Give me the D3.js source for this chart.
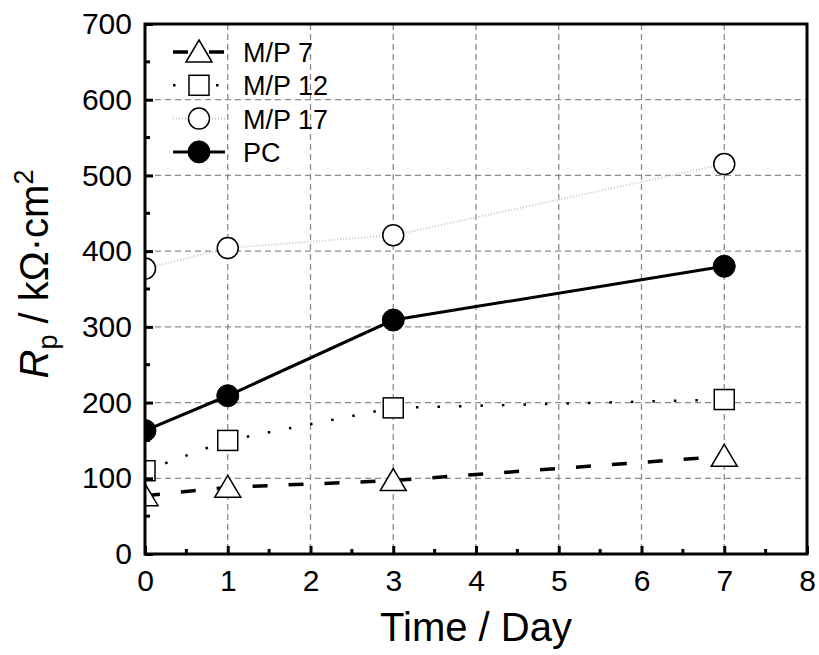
<!doctype html>
<html>
  <head>
    <script src="https://cdn.jsdelivr.net/npm/d3@7"></script>
    <style>
      body { margin: 0; background: #fff; }
      svg text { font-family: "Liberation Sans", Arial, sans-serif; fill: #000; }
    </style>
  </head>
  <body>
    <script>
      // data
      var days = [0, 1, 3, 7];
      var mp7 = [77, 88, 97, 129];
      var mp12 = [110, 150, 193, 204];
      var mp17 = [377, 404, 421, 515];
      var pc = [163, 209, 309, 380];

      var xTicks = [0, 1, 2, 3, 4, 5, 6, 7, 8];
      var yTicks = [0, 100, 200, 300, 400, 500, 600, 700];

      var w_svg = 819, h_svg = 655;
      var pLeft = 145, pRight = 807, pTop = 24, pBottom = 554;

      var svg = d3.select("body").append("svg")
                  .attr("width", w_svg)
                  .attr("height", h_svg);

      var x = d3.scaleLinear().domain([0, 8]).range([pLeft, pRight]);
      var y = d3.scaleLinear().domain([0, 700]).range([pBottom, pTop]);

      svg.append("clipPath").attr("id", "plotclip")
         .append("rect")
         .attr("x", pLeft).attr("y", pTop)
         .attr("width", pRight - pLeft).attr("height", pBottom - pTop);

      // grid
      var grid = svg.append("g");
      grid.selectAll(".vg").data(xTicks.slice(1, -1)).enter().append("line")
          .attr("x1", function(d){ return x(d); }).attr("x2", function(d){ return x(d); })
          .attr("y1", pTop).attr("y2", pBottom)
          .attr("stroke", "#8c8c8c").attr("stroke-width", 1.3)
          .attr("stroke-dasharray", "6,4");
      grid.selectAll(".hg").data(yTicks.slice(1, -1)).enter().append("line")
          .attr("y1", function(d){ return y(d); }).attr("y2", function(d){ return y(d); })
          .attr("x1", pLeft).attr("x2", pRight)
          .attr("stroke", "#8c8c8c").attr("stroke-width", 1.3)
          .attr("stroke-dasharray", "6,4");

      var series = [
        {name: "M/P 7", vals: mp7, shape: "tri", dash: "15,21", width: 3.5, color: "#000"},
        {name: "M/P 12", vals: mp12, shape: "sq", dash: "2.5,19", width: 2.5, color: "#000"},
        {name: "M/P 17", vals: mp17, shape: "open", dash: "1,2", width: 2, color: "#c8c8c8"},
        {name: "PC", vals: pc, shape: "fill", dash: null, width: 3, color: "#000"}
      ];

      var line = d3.line()
                   .x(function(d){ return x(d[0]); })
                   .y(function(d){ return y(d[1]); });

      function drawMarker(g, shape, cx, cy) {
        if (shape == "tri") {
          g.append("path")
           .attr("d", "M" + cx + "," + (cy - 12) + " L" + (cx + 13) + "," + (cy + 10) + " L" + (cx - 13) + "," + (cy + 10) + " Z")
           .attr("fill", "#fff").attr("stroke", "#000").attr("stroke-width", 1.5);
        } else if (shape == "sq") {
          g.append("rect")
           .attr("x", cx - 10).attr("y", cy - 10).attr("width", 20).attr("height", 20)
           .attr("fill", "#fff").attr("stroke", "#000").attr("stroke-width", 1.5);
        } else if (shape == "open") {
          g.append("circle").attr("cx", cx).attr("cy", cy).attr("r", 10.5)
           .attr("fill", "#fff").attr("stroke", "#000").attr("stroke-width", 1.5);
        } else {
          g.append("circle").attr("cx", cx).attr("cy", cy).attr("r", 11)
           .attr("fill", "#000").attr("stroke", "#000").attr("stroke-width", 1);
        }
      }

      var plot = svg.append("g").attr("clip-path", "url(#plotclip)");
      series.forEach(function(s){
        var pts = days.map(function(d, i){ return [d, s.vals[i]]; });
        plot.append("path").datum(pts)
            .attr("d", line)
            .attr("fill", "none")
            .attr("stroke", s.color)
            .attr("stroke-width", s.width)
            .attr("stroke-dasharray", s.dash);
      });
      series.forEach(function(s){
        days.forEach(function(d, i){
          drawMarker(plot, s.shape, x(d), y(s.vals[i]));
        });
      });

      // axes (ticks inward)
      var xMinor = d3.range(0.5, 8, 1);
      var yMinor = d3.range(50, 700, 100);

      var xAxis = svg.append("g").attr("transform", "translate(0," + pBottom + ")")
                     .call(d3.axisBottom(x).tickValues(xTicks).tickSize(-8).tickPadding(16)
                             .tickFormat(d3.format("d")));
      xAxis.append("g").selectAll("line").data(xMinor).enter().append("line")
           .attr("x1", function(d){ return x(d); }).attr("x2", function(d){ return x(d); })
           .attr("y1", 0).attr("y2", -5).attr("stroke", "#000").attr("stroke-width", 3);

      var yAxis = svg.append("g").attr("transform", "translate(" + pLeft + ",0)")
                     .call(d3.axisLeft(y).tickValues(yTicks).tickSize(-8).tickPadding(13)
                             .tickFormat(d3.format("d")));
      yAxis.append("g").selectAll("line").data(yMinor).enter().append("line")
           .attr("y1", function(d){ return y(d); }).attr("y2", function(d){ return y(d); })
           .attr("x1", 0).attr("x2", 5).attr("stroke", "#000").attr("stroke-width", 3);

      [xAxis, yAxis].forEach(function(a){
        a.attr("font-size", 30).attr("font-family", "'Liberation Sans', Arial, sans-serif");
        a.select(".domain").remove();
        a.selectAll(".tick line").attr("stroke", "#000").attr("stroke-width", 3);
        a.selectAll(".tick text").attr("fill", "#000");
      });

      // frame
      svg.append("rect")
         .attr("x", pLeft).attr("y", pTop)
         .attr("width", pRight - pLeft).attr("height", pBottom - pTop)
         .attr("fill", "none").attr("stroke", "#000").attr("stroke-width", 3);

      // axis titles
      svg.append("text")
         .attr("x", (pLeft + pRight) / 2).attr("y", 641)
         .attr("text-anchor", "middle")
         .attr("font-size", 40)
         .text("Time / Day");

      var yt = svg.append("text")
                  .attr("transform", "translate(48,274) rotate(-90)")
                  .attr("text-anchor", "middle")
                  .attr("font-size", 40);
      yt.append("tspan").attr("font-style", "italic").text("R");
      yt.append("tspan").attr("font-size", 27).attr("dy", 9).text("p");
      yt.append("tspan").attr("dy", -9).text(" / kΩ·cm");
      yt.append("tspan").attr("font-size", 27).attr("dy", -15).text("2");

      // legend
      var legend = svg.append("g");
      series.forEach(function(s, i){
        var ly = 52 + i * 33.3;
        legend.append("line")
              .attr("x1", 173).attr("x2", 225).attr("y1", ly).attr("y2", ly)
              .attr("stroke", s.color).attr("stroke-width", s.width)
              .attr("stroke-dasharray", s.dash);
        drawMarker(legend, s.shape, 199, ly);
        legend.append("text")
              .attr("x", 243).attr("y", ly + 10)
              .attr("font-size", 27)
              .text(s.name);
      });
    </script>
  </body>
</html>
